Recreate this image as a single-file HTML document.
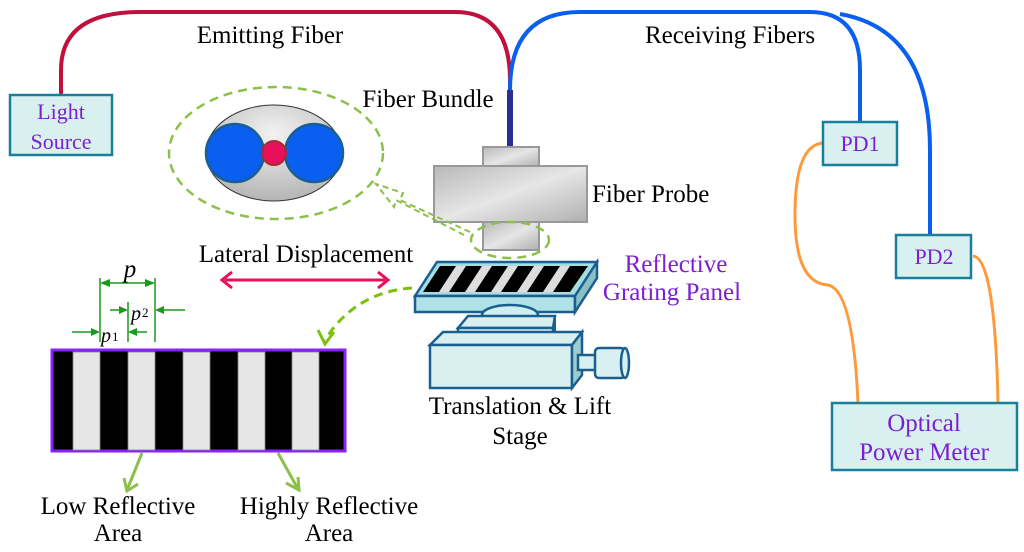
<!DOCTYPE html>
<html><head><meta charset="utf-8"><style>
html,body{margin:0;padding:0;background:#fff;}
svg{display:block;font-family:"Liberation Serif","DejaVu Serif",serif;}
svg text{font-family:"Liberation Serif","DejaVu Serif",serif !important;}
</style></head><body>
<svg width="1024" height="552" viewBox="0 0 1024 552" xmlns="http://www.w3.org/2000/svg" font-family="Liberation Serif, DejaVu Serif, serif">
<defs>
<linearGradient id="metal" x1="0" y1="0" x2="1" y2="1">
<stop offset="0" stop-color="#b8b8b8"/><stop offset="0.5" stop-color="#e6e6e6"/><stop offset="1" stop-color="#b0b0b0"/>
</linearGradient>
<radialGradient id="gell" cx="0.5" cy="0.3" r="0.7"><stop offset="0" stop-color="#f2f2f2"/><stop offset="1" stop-color="#b5b5b5"/></radialGradient>
</defs>
<path d="M61,95 L61,70 Q61,12 140,12 L455,12 Q510,12 510,80 L510,92" fill="none" stroke="#c0103c" stroke-width="4"/>
<path d="M510,90 Q510,12 580,12 L810,12 Q860,12 860,70 L860,122" fill="none" stroke="#0a5ff0" stroke-width="4"/>
<path d="M840,14 Q930,30 930,150 L930,235" fill="none" stroke="#0a5ff0" stroke-width="4"/>
<line x1="510" y1="90" x2="510" y2="150" stroke="#2a2f90" stroke-width="6"/>
<path d="M823,143 Q795,145 795,215 Q795,283 828,285 Q853,290 858,403" fill="none" stroke="#ff9a3c" stroke-width="3"/>
<path d="M973,256 Q995,258 998,403" fill="none" stroke="#ff9a3c" stroke-width="3"/>
<rect x="10" y="95" width="102" height="60" fill="#d8f0f0" stroke="#1a7f9a" stroke-width="2.5"/>
<text x="61" y="119" font-size="22" fill="#7b1fd0" text-anchor="middle">Light</text>
<text x="61" y="149" font-size="22" fill="#7b1fd0" text-anchor="middle">Source</text>
<rect x="823" y="122" width="74" height="43" fill="#d8f0f0" stroke="#1a7f9a" stroke-width="2.5"/>
<text x="860" y="151" font-size="22" fill="#7b1fd0" text-anchor="middle">PD1</text>
<rect x="896" y="235" width="75" height="43" fill="#d8f0f0" stroke="#1a7f9a" stroke-width="2.5"/>
<text x="934" y="264" font-size="22" fill="#7b1fd0" text-anchor="middle">PD2</text>
<rect x="832" y="403" width="185" height="67" fill="#d8f0f0" stroke="#1a7f9a" stroke-width="2.5"/>
<text x="924" y="431" font-size="25" fill="#7b1fd0" text-anchor="middle">Optical</text>
<text x="924" y="460" font-size="25" fill="#7b1fd0" text-anchor="middle">Power Meter</text>
<text x="270" y="43" font-size="25" fill="#000" text-anchor="middle">Emitting Fiber</text>
<text x="730" y="43" font-size="25" fill="#000" text-anchor="middle">Receiving Fibers</text>
<text x="428" y="107" font-size="25" fill="#000" text-anchor="middle">Fiber Bundle</text>
<text x="592" y="202" font-size="25" fill="#000">Fiber Probe</text>
<text x="306" y="262" font-size="25" fill="#000" text-anchor="middle">Lateral Displacement</text>
<text x="676" y="272" font-size="25" fill="#7b1fd0" text-anchor="middle">Reflective</text>
<text x="672" y="300" font-size="25" fill="#7b1fd0" text-anchor="middle">Grating Panel</text>
<text x="520" y="414" font-size="25" fill="#000" text-anchor="middle">Translation &amp; Lift</text>
<text x="520" y="444" font-size="25" fill="#000" text-anchor="middle">Stage</text>
<text x="118" y="514" font-size="25" fill="#000" text-anchor="middle">Low Reflective</text>
<text x="118" y="541" font-size="25" fill="#000" text-anchor="middle">Area</text>
<text x="329" y="514" font-size="25" fill="#000" text-anchor="middle">Highly Reflective</text>
<text x="329" y="541" font-size="25" fill="#000" text-anchor="middle">Area</text>
<ellipse cx="276" cy="153" rx="107" ry="66" fill="none" stroke="#8cc04a" stroke-width="2.5" stroke-dasharray="9,6"/>
<ellipse cx="274" cy="153" rx="68" ry="48" fill="url(#gell)" stroke="#333" stroke-width="1"/>
<circle cx="235" cy="153" r="29" fill="#0a5ff0" stroke="#1a5f8f" stroke-width="2.5"/>
<circle cx="314" cy="153" r="29" fill="#0a5ff0" stroke="#1a5f8f" stroke-width="2.5"/>
<circle cx="274" cy="153" r="12" fill="#e8105a" stroke="#a03030" stroke-width="2"/>
<rect x="483" y="147" width="56" height="20" fill="url(#metal)" stroke="#999" stroke-width="2"/>
<rect x="434" y="166" width="153" height="56" fill="url(#metal)" stroke="#999" stroke-width="2"/>
<rect x="483" y="222" width="56" height="28" fill="url(#metal)" stroke="#999" stroke-width="2"/>
<ellipse cx="510" cy="240" rx="39" ry="18" fill="none" stroke="#8cc04a" stroke-width="2.5" stroke-dasharray="9,6"/>
<path d="M470,232 L400,200 L403,193 L376,184 L394,207 L396,200 L466,236" fill="none" stroke="#8cc04a" stroke-width="2" stroke-dasharray="6,4"/>
<line x1="225" y1="280" x2="385" y2="280" stroke="#e8105a" stroke-width="3"/>
<path d="M232,272 L222,280 L232,288" fill="none" stroke="#e8105a" stroke-width="3"/>
<path d="M378,272 L388,280 L378,288" fill="none" stroke="#e8105a" stroke-width="3"/>
<path d="M412,288 Q355,292 325,340" fill="none" stroke="#7cc010" stroke-width="3" stroke-dasharray="9,6"/>
<path d="M318,330 L325,344 L334,332" fill="none" stroke="#7cc010" stroke-width="3"/>
<polygon points="415,296 437,262 597,262 575,296" fill="#a8dde0" stroke="#1a5f8f" stroke-width="2.5"/>
<polygon points="423,292 440,266 588,266 570,292" fill="#000"/>
<g fill="#ddd">
<polygon points="439,292 456,266 466,266 449,292"/>
<polygon points="465,292 482,266 492,266 475,292"/>
<polygon points="491,292 508,266 518,266 501,292"/>
<polygon points="517,292 534,266 544,266 527,292"/>
<polygon points="543,292 560,266 570,266 553,292"/>
</g>
<polygon points="415,296 575,296 575,312 415,312" fill="#aee2e6" stroke="#1a5f8f" stroke-width="2.5"/>
<polygon points="575,296 597,262 597,278 575,312" fill="#88c0c4" stroke="#1a5f8f" stroke-width="2.5"/>
<ellipse cx="510" cy="315" rx="28" ry="10" fill="#cfeef0" stroke="#1a5f8f" stroke-width="2.5"/>
<polygon points="458,328 468,316 555,316 553,328" fill="#d8f0f0" stroke="#1a5f8f" stroke-width="2.5"/>
<rect x="458" y="328" width="95" height="17" fill="#d8f0f0" stroke="#1a5f8f" stroke-width="2.5"/>
<polygon points="553,328 555,316 555,334 553,345" fill="#9ccdd0" stroke="#1a5f8f" stroke-width="2"/>
<polygon points="430,345 443,332 582,332 572,345" fill="#d8f0f0" stroke="#1a5f8f" stroke-width="2.5"/>
<rect x="430" y="345" width="142" height="43" fill="#d8f0f0" stroke="#1a5f8f" stroke-width="2.5"/>
<polygon points="572,345 582,332 582,375 572,388" fill="#9ccdd0" stroke="#1a5f8f" stroke-width="2.5"/>
<rect x="578" y="355" width="18" height="15" fill="#d8f0f0" stroke="#1a5f8f" stroke-width="2.5"/>
<rect x="595" y="348" width="30" height="30" rx="4" fill="#d8f0f0" stroke="#1a5f8f" stroke-width="2.5"/>
<ellipse cx="625" cy="363" rx="4" ry="15" fill="#d8f0f0" stroke="#1a5f8f" stroke-width="2.5"/>
<rect x="52" y="350" width="293" height="101" fill="#000" stroke="#8a20ff" stroke-width="3"/>
<g fill="#e6e6e6" stroke="#888" stroke-width="0.8">
<rect x="73" y="352" width="27" height="98"/>
<rect x="128" y="352" width="27" height="98"/>
<rect x="183" y="352" width="27" height="98"/>
<rect x="238" y="352" width="27" height="98"/>
<rect x="292" y="352" width="27" height="98"/>
</g>
<g stroke="#1a9a1a" stroke-width="1.5" fill="#1a9a1a">
<line x1="100" y1="278" x2="100" y2="342"/>
<line x1="155" y1="278" x2="155" y2="342"/>
<line x1="128" y1="302" x2="128" y2="342"/>
<line x1="102" y1="283" x2="153" y2="283"/>
<polygon points="100,283 110,279 110,287" stroke="none"/>
<polygon points="155,283 145,279 145,287" stroke="none"/>
<line x1="110" y1="310" x2="126" y2="310"/>
<polygon points="128,310 119,306 119,314" stroke="none"/>
<line x1="157" y1="310" x2="185" y2="310"/>
<polygon points="155,310 164,306 164,314" stroke="none"/>
<line x1="72" y1="332" x2="98" y2="332"/>
<polygon points="100,332 91,328 91,336" stroke="none"/>
<line x1="130" y1="332" x2="147" y2="332"/>
<polygon points="128,332 137,328 137,336" stroke="none"/>
</g>
<text x="130" y="277" font-size="25" font-style="italic" text-anchor="middle">p</text>
<text x="131" y="320" font-size="20" font-style="italic">p</text><text x="142" y="317" font-size="13">2</text>
<text x="101" y="342" font-size="20" font-style="italic">p</text><text x="112" y="341" font-size="13">1</text>
<g stroke="#8cc04a" stroke-width="3" fill="none">
<line x1="142" y1="453" x2="127" y2="490"/>
<path d="M124,478 L127,491 L138,484"/>
<line x1="278" y1="453" x2="298" y2="489"/>
<path d="M286,483 L299,490 L298,477"/>
</g>
</svg>
</body></html>
